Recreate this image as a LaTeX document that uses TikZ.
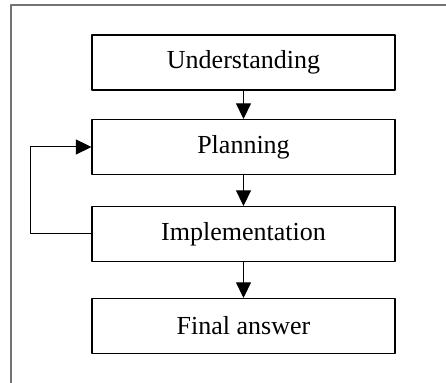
\documentclass[tikz,border=0pt]{standalone}
\usepackage{fontspec}
\setmainfont{Liberation Serif}
\usetikzlibrary{arrows.meta}
\tikzset{
	stage/.style={draw=black, line width=0.55pt, minimum width=151.5pt, minimum height=27.5pt, inner sep=0pt},
	frameline/.style={draw=black!55, line width=0.8pt}
}
\begin{document}
\begin{tikzpicture}[x=0.5pt, y=-0.5pt, font=\fontsize{13}{15}\selectfont, line join=round, >={Triangle[width=7.5pt,length=7.8pt]}]
		\def\xc{243.5}
		\useasboundingbox (0,0) rectangle (446,383);
		% frame
		\draw[frameline] (11,383)--(11,5)--(446,5);
		% stages
		\node[stage] (und) at (\xc,62.5) {Understanding};
		\node[stage] (plan) at (\xc,147) {Planning};
		\node[stage] (impl) at (\xc,234) {Implementation};
		\node[stage] (final) at (\xc,326) {Final answer};
		\draw[->, line width=0.5pt] (und)--(plan);
		\draw[->, line width=0.5pt] (plan)--(impl);
		\draw[->, line width=0.5pt] (impl)--(final);
		% loop back
		\coordinate (loop) at (31,234);
		\draw[->, line width=0.5pt] (impl.west)--(loop)|-(plan.west);
	\end{tikzpicture}
\end{document}
